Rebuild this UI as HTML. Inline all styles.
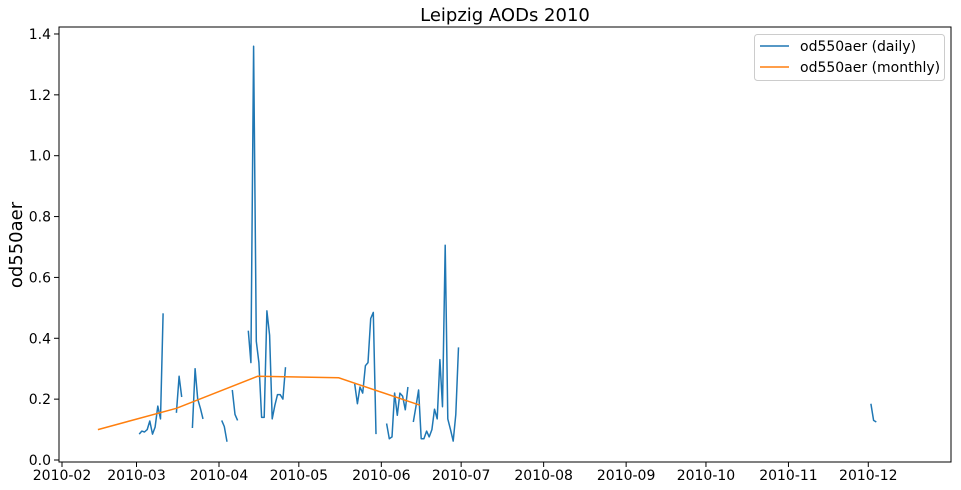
<!DOCTYPE html>
<html><head><meta charset="utf-8"><style>
body{margin:0;background:#fff;font-family:"Liberation Sans","DejaVu Sans",sans-serif}
svg{display:block}
text{font-family:"DejaVu Sans","Liberation Sans",sans-serif;fill:#000}
</style></head><body>
<svg id="chart" width="961" height="490">
<text x="505" y="21" font-size="18" text-anchor="middle">Leipzig AODs 2010</text>
<text transform="translate(22,245) rotate(-90)" font-size="18" text-anchor="middle">od550aer</text>
<g id="plot"></g>
<rect x="59" y="27" width="892" height="435" fill="none" stroke="#000" stroke-width="1"/>
<g>
<rect x="754.5" y="34.5" width="190" height="46" rx="3" fill="#fff" stroke="#ccc"/>
<line x1="760" y1="46" x2="789" y2="46" stroke="#1f77b4" stroke-width="1.5"/>
<text x="800" y="51" font-size="14">od550aer (daily)</text>
<line x1="760" y1="67" x2="789" y2="67" stroke="#ff7f0e" stroke-width="1.5"/>
<text x="800" y="72" font-size="14">od550aer (monthly)</text>
</g>
</svg>
<script>
// day offsets from 2010-02-01; null breaks the line
const dailyDays = [29,30,31,32,33,34,35,36,37,38,null,43,44,45,null,49,50,51,52,53,null,60,61,62,null,64,65,66,null,
70,71,72,73,74,75,76,77,78,79,80,81,82,83,84,null,110,111,112,113,114,115,116,117,118,null,
122,123,124,125,126,127,128,129,130,null,132,133,134,135,136,137,138,139,140,141,142,143,144,145,146,147,148,149,null,304,305,306];
const dailyValues = [0.085,0.095,0.092,0.1,0.128,0.085,0.108,0.177,0.135,0.482,null,0.155,0.275,0.207,null,0.105,0.3,0.2,0.17,0.135,null,0.13,0.11,0.06,null,0.23,0.15,0.13,null,
0.425,0.32,1.36,0.39,0.32,0.14,0.14,0.49,0.41,0.135,0.18,0.215,0.215,0.2,0.305,null,0.25,0.185,0.24,0.22,0.31,0.32,0.465,0.485,0.085,null,
0.12,0.07,0.076,0.22,0.147,0.22,0.21,0.165,0.24,null,0.125,0.175,0.23,0.07,0.07,0.095,0.076,0.1,0.167,0.135,0.33,0.175,0.706,0.135,0.1,0.062,0.15,0.37,null,0.185,0.13,0.125];
const monthlyDays = [13.5,43,73.5,104,134.5];
const monthlyValues = [0.1,0.17,0.275,0.27,0.18];
const xTickDays = [0,28,59,89,120,150,181,212,242,273,303];
const xTickLabels = ["2010-02","2010-03","2010-04","2010-05","2010-06","2010-07","2010-08","2010-09","2010-10","2010-11","2010-12"];
const yTicks = [0,0.2,0.4,0.6,0.8,1.0,1.2,1.4];

const X = d => 62 + d*2.661;
const Y = v => 460 - v*304.3;
const NS = "http://www.w3.org/2000/svg";
const g = document.getElementById('plot');
function mk(tag, attrs){const e=document.createElementNS(NS,tag);for(const k in attrs)e.setAttribute(k,attrs[k]);g.appendChild(e);return e;}

xTickDays.forEach((d,i)=>{
  const t = mk('line',{x1:X(d),x2:X(d),y1:462,y2:467,stroke:'#000'});
  
  
  const l = mk('text',{x:X(d),y:480,'font-size':14,'text-anchor':'middle'});
  l.textContent = xTickLabels[i];
  
  
});
yTicks.forEach(v=>{
  const t = mk('line',{x1:54,x2:59,y1:Y(v),y2:Y(v),stroke:'#000'});
  
  
  const l = mk('text',{x:51,y:Y(v)+5,'font-size':14,'text-anchor':'end'});
  l.textContent = v.toFixed(1);
  
  
});

let dpath = "", pen = false;
dailyDays.forEach((d,i)=>{
  const v = dailyValues[i];
  if(d===null||v===null){pen=false;return;}
  dpath += (pen?"L":"M") + X(d).toFixed(1) + " " + Y(v).toFixed(1) + " ";
  pen = true;
});
const dl = mk('path',{d:dpath,fill:'none',stroke:'#1f77b4','stroke-width':1.5,'stroke-linejoin':'round'});



let mpath = monthlyDays.map((d,i)=>(i?"L":"M")+X(d).toFixed(1)+" "+Y(monthlyValues[i]).toFixed(1)).join(" ");
const ml = mk('path',{d:mpath,fill:'none',stroke:'#ff7f0e','stroke-width':1.5});


</script>
</body></html>
